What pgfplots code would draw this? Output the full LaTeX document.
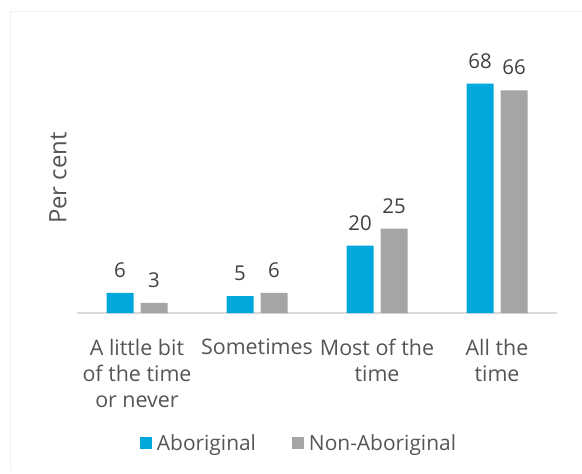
\documentclass[border=0pt]{standalone}
\usepackage{fontspec}
\setmainfont{Open Sans}
\usepackage{pgfplots}
\pgfplotsset{compat=1.18}
\definecolor{abor}{HTML}{00A8DC}
\definecolor{nonabor}{HTML}{A5A5A5}
\definecolor{valtxt}{HTML}{404040}
\definecolor{lbltxt}{HTML}{555555}
\definecolor{axisgray}{HTML}{D9D9D9}
\definecolor{framegray}{HTML}{F0F0F0}
\begin{document}
\begin{tikzpicture}
\useasboundingbox (-77bp,-161bp) rectangle (505bp,313bp);
\draw[framegray, line width=1bp] (-66bp,-157bp) -- (-66bp,301bp) -- (505bp,301bp);
\begin{axis}[
  at={(0,0)}, anchor=south west,
  scale only axis, width=480bp, height=270bp,
  xmin=-0.5, xmax=3.5, ymin=0, ymax=80,
  ybar=7bp, bar width=27bp,
  axis x line*=bottom, axis y line*=left,
  x axis line style={-, draw=axisgray, line width=1.2bp},
  y axis line style={draw=none},
  xtick={0,1,2,3},
  xticklabels={{A little bit\\of the time\\or never},{Sometimes},{Most of the\\time},{All the\\time}},
  major tick length=0pt,
  xticklabel style={font=\fontsize{21.5}{26}\selectfont, text=lbltxt, align=center, inner sep=0pt, anchor=north, yshift=-26bp},
  ytick=\empty,
  ylabel={Per cent},
  ylabel style={font=\fontsize{24}{28}\selectfont, text=lbltxt, at={(axis description cs:0,0.5)}, anchor=center, yshift=19bp},
  /pgf/number format/assume math mode=true,
  nodes near coords,
  nodes near coords style={font=\fontsize{20.5}{24}\selectfont, text=valtxt, anchor=south, inner sep=0pt, yshift=15bp},
  legend columns=2,
  legend style={draw=none, fill=none, at={(axis description cs:0.4625,-0.481)}, anchor=center,
    font=\fontsize{21}{25}\selectfont, text=lbltxt,
    /tikz/every even column/.append style={column sep=34bp}},
  legend image code/.code={\fill[#1,draw=none] (0bp,-6bp) rectangle (12bp,6bp); \path (0bp,0bp) -- (15bp,0bp);},
]
% Aboriginal
\addplot[fill=abor, draw=none] coordinates {(0,6) (1,5) (2,20) (3,68)};
% Non-Aboriginal
\addplot[fill=nonabor, draw=none] coordinates {(0,3) (1,6) (2,25) (3,66)};
\legend{Aboriginal, Non-Aboriginal}
\end{axis}
\end{tikzpicture}
\end{document}
